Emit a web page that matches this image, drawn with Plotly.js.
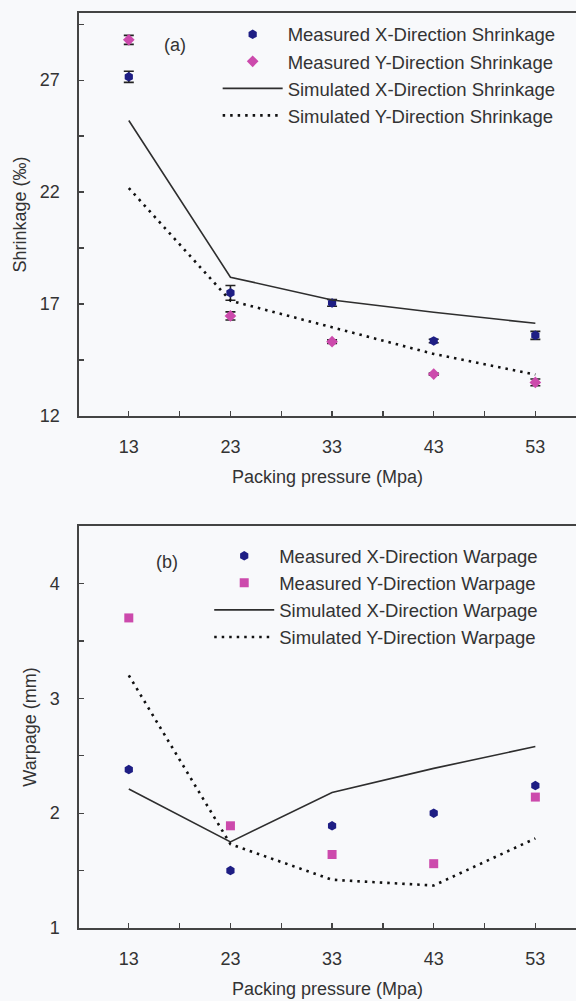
<!DOCTYPE html>
<html>
<head>
<meta charset="utf-8">
<script src="https://cdn.plot.ly/plotly-3.0.1.min.js"></script>
<style>
html,body{margin:0;padding:0;background:#f8f9fb;}
#chart{width:576px;height:1001px;}
</style>
</head>
<body>
<div id="chart"></div>
<script>
// Packing pressure (Mpa)
const pressure = [13, 23, 33, 43, 53];

// (a) Shrinkage (‰)
const measXShrink = [27.15, 17.5, 17.05, 15.35, 15.6];
const measXShrinkErr = [0.25, 0.33, 0.15, 0.08, 0.18];
const measYShrink = [28.8, 16.47, 15.32, 13.87, 13.5];
const measYShrinkErr = [0.2, 0.18, 0.08, 0.05, 0.15];
const simXShrink = [25.2, 18.2, 17.18, 16.63, 16.14];
const simYShrink = [22.18, 17.15, 15.96, 14.77, 13.85];

// (b) Warpage (mm)
const measXWarp = [2.38, 1.50, 1.89, 2.00, 2.24];
const measYWarp = [3.70, 1.89, 1.64, 1.56, 2.14];
const simXWarp = [2.21, 1.75, 2.18, 2.39, 2.58];
const simYWarp = [3.20, 1.73, 1.42, 1.37, 1.78];

const xTickVals = [13, 23, 33, 43, 53];
const shrinkTickVals = [12, 17, 22, 27];
const warpTickVals = [1, 2, 3, 4];

const FONT = 'Arial, "Liberation Sans", sans-serif';
const TXT = '#333333';
const BLUE = '#1e1e84';
const PINK = '#cc4aac';
const LINE = '#2e2e2e';
const AX = '#444444';

const traces = [
  {x: pressure, y: measXShrink, type: 'scatter', mode: 'markers', name: 'Measured X-Direction Shrinkage',
   marker: {symbol: 'hexagon', size: 9.5, color: BLUE},
   error_y: {type: 'data', array: measXShrinkErr, visible: true, color: '#222', thickness: 1.6, width: 5},
   xaxis: 'x', yaxis: 'y', legend: 'legend'},
  {x: pressure, y: measYShrink, type: 'scatter', mode: 'markers', name: 'Measured Y-Direction Shrinkage',
   marker: {symbol: 'diamond', size: 9, color: PINK},
   error_y: {type: 'data', array: measYShrinkErr, visible: true, color: '#222', thickness: 1.6, width: 5},
   xaxis: 'x', yaxis: 'y', legend: 'legend'},
  {x: pressure, y: simXShrink, type: 'scatter', mode: 'lines', name: 'Simulated X-Direction Shrinkage',
   line: {color: LINE, width: 1.6}, xaxis: 'x', yaxis: 'y', legend: 'legend'},
  {x: pressure, y: simYShrink, type: 'scatter', mode: 'lines', name: 'Simulated Y-Direction Shrinkage',
   line: {color: '#111', width: 2.6, dash: '2.5px,5px'}, xaxis: 'x', yaxis: 'y', legend: 'legend'},

  {x: pressure, y: measXWarp, type: 'scatter', mode: 'markers', name: 'Measured X-Direction Warpage',
   marker: {symbol: 'hexagon', size: 9.5, color: BLUE}, xaxis: 'x2', yaxis: 'y2', legend: 'legend2'},
  {x: pressure, y: measYWarp, type: 'scatter', mode: 'markers', name: 'Measured Y-Direction Warpage',
   marker: {symbol: 'square', size: 9, color: PINK}, xaxis: 'x2', yaxis: 'y2', legend: 'legend2'},
  {x: pressure, y: simXWarp, type: 'scatter', mode: 'lines', name: 'Simulated X-Direction Warpage',
   line: {color: LINE, width: 1.6}, xaxis: 'x2', yaxis: 'y2', legend: 'legend2'},
  {x: pressure, y: simYWarp, type: 'scatter', mode: 'lines', name: 'Simulated Y-Direction Warpage',
   line: {color: '#111', width: 2.6, dash: '2.5px,5px'}, xaxis: 'x2', yaxis: 'y2', legend: 'legend2'}
];

function xAxis(domainAnchor) {
  return {
    anchor: domainAnchor, range: [8.1, 57], tickmode: 'array', tickvals: xTickVals,
    ticks: 'inside', ticklen: 5, tickwidth: 1.3, tickcolor: AX,
    minor: {dtick: 5, tick0: 13, ticks: 'inside', ticklen: 5, tickwidth: 1.3, tickcolor: AX, showgrid: false},
    showline: true, linecolor: AX, linewidth: 1.6, mirror: true, showgrid: false, zeroline: false,
    ticklabelstandoff: 14, tickfont: {family: FONT, size: 18, color: TXT},
    title: {text: 'Packing pressure (Mpa)', font: {family: FONT, size: 18, color: TXT}, standoff: 14}
  };
}
function yAxis(anchor, dom, rng, vals, minorD, title) {
  return {
    anchor: anchor, domain: dom, range: rng, tickmode: 'array', tickvals: vals,
    ticks: 'inside', ticklen: 5, tickwidth: 1.3, tickcolor: AX,
    minor: {dtick: minorD, tick0: rng[0], ticks: 'inside', ticklen: 5, tickwidth: 1.3, tickcolor: AX, showgrid: false},
    showline: true, linecolor: AX, linewidth: 1.6, mirror: false, showgrid: false, zeroline: false,
    ticklabelstandoff: 14, tickfont: {family: FONT, size: 18, color: TXT},
    title: {text: title, font: {family: FONT, size: 18, color: TXT}, standoff: 8}
  };
}

const layout = {
  width: 576, height: 1001,
  margin: {l: 79, r: 0, t: 13, b: 73},
  paper_bgcolor: '#f8f9fb', plot_bgcolor: '#f8f9fb',
  font: {family: FONT, size: 18, color: TXT},
  showlegend: true,
  xaxis: xAxis('y'),
  yaxis: yAxis('x', [0.5596, 1], [12, 30], shrinkTickVals, 2.5, 'Shrinkage (‰)'),
  xaxis2: xAxis('y2'),
  yaxis2: yAxis('x2', [0, 0.4393], [1, 4.5], warpTickVals, 0.5, 'Warpage (mm)'),
  legend: {x: 0.279, y: 0.997, xanchor: 'left', yanchor: 'top', bgcolor: 'rgba(0,0,0,0)',
           font: {family: FONT, size: 18.5, color: TXT}, itemwidth: 60, traceorder: 'normal'},
  legend2: {x: 0.262, y: 0.427, xanchor: 'left', yanchor: 'top', bgcolor: 'rgba(0,0,0,0)',
           font: {family: FONT, size: 18.5, color: TXT}, itemwidth: 60, traceorder: 'normal'},
  annotations: [
    {text: '(a)', xref: 'x', yref: 'y', x: 17.5, y: 28.55, showarrow: false, font: {family: FONT, size: 18, color: TXT}},
    {text: '(b)', xref: 'x2', yref: 'y2', x: 16.8, y: 4.19, showarrow: false, font: {family: FONT, size: 18, color: TXT}}
  ]
};

Plotly.newPlot('chart', traces, layout, {displayModeBar: false, staticPlot: true});
</script>
</body>
</html>
